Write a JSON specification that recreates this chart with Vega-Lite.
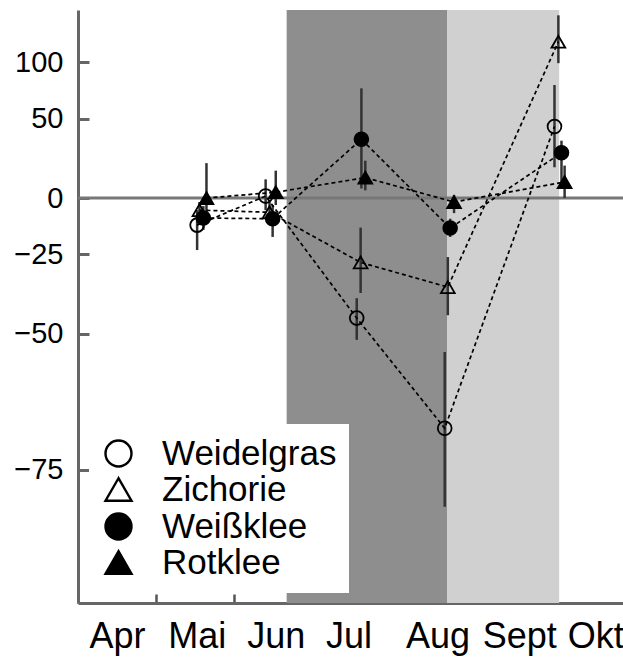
{
  "$schema": "https://vega.github.io/schema/vega-lite/v6.json",
  "width": 545,
  "height": 593,
  "autosize": {"type": "none"},
  "padding": {"left": 78, "top": 10, "right": 0, "bottom": 55},
  "background": "white",
  "config": {
    "view": {"stroke": null},
    "font": "Liberation Sans",
    "axis": {"grid": false, "title": null},
    "legend": {
      "orient": "none",
      "legendX": 11,
      "legendY": 414,
      "fillColor": "white",
      "padding": 12,
      "labelFontSize": 35,
      "labelLimit": 500,
      "labelColor": "black",
      "labelOffset": 26,
      "symbolSize": 676,
      "symbolStrokeWidth": 2.4,
      "rowPadding": 0
    }
  },
  "datasets": {
    "pts": [
      {"species": "Weidelgras", "month": 1.53, "r": 0.871, "lo": 0.767, "hi": 0.94},
      {"species": "Weidelgras", "month": 2.41, "r": 1.01, "lo": 0.94, "hi": 1.10},
      {"species": "Weidelgras", "month": 3.58, "r": 0.542, "lo": 0.485, "hi": 0.60},
      {"species": "Weidelgras", "month": 4.71, "r": 0.309, "lo": 0.207, "hi": 0.456},
      {"species": "Weidelgras", "month": 6.12, "r": 1.44, "lo": 1.17, "hi": 1.78},
      {"species": "Zichorie", "month": 1.56, "r": 0.94, "lo": 0.90, "hi": 0.98},
      {"species": "Zichorie", "month": 2.46, "r": 0.93, "lo": 0.88, "hi": 0.98},
      {"species": "Zichorie", "month": 3.63, "r": 0.72, "lo": 0.616, "hi": 0.86},
      {"species": "Zichorie", "month": 4.75, "r": 0.635, "lo": 0.55, "hi": 0.74},
      {"species": "Zichorie", "month": 6.17, "r": 2.22, "lo": 1.99, "hi": 2.54},
      {"species": "Weißklee", "month": 1.61, "r": 0.903, "lo": 0.85, "hi": 0.96},
      {"species": "Weißklee", "month": 2.50, "r": 0.90, "lo": 0.82, "hi": 0.965},
      {"species": "Weißklee", "month": 3.64, "r": 1.35, "lo": 1.05, "hi": 1.75},
      {"species": "Weißklee", "month": 4.78, "r": 0.858, "lo": 0.82, "hi": 0.90},
      {"species": "Weißklee", "month": 6.21, "r": 1.26, "lo": 1.07, "hi": 1.34},
      {"species": "Rotklee", "month": 1.65, "r": 1.0, "lo": 0.917, "hi": 1.195},
      {"species": "Rotklee", "month": 2.54, "r": 1.03, "lo": 0.965, "hi": 1.15},
      {"species": "Rotklee", "month": 3.69, "r": 1.11, "lo": 1.04, "hi": 1.21},
      {"species": "Rotklee", "month": 4.83, "r": 0.98, "lo": 0.926, "hi": 1.015},
      {"species": "Rotklee", "month": 6.25, "r": 1.085, "lo": 1.0, "hi": 1.18}
    ]
  },
  "layer": [
    {
      "data": {"values": [{"start": 2.68, "end": 4.74}]},
      "mark": {"type": "rect", "color": "#8e8e8e"},
      "encoding": {
        "x": {"field": "start", "type": "quantitative", "scale": {"domain": [0, 7], "nice": false, "zero": false},
          "axis": {
            "values": [0, 1, 2, 3, 4, 5, 6],
            "labelExpr": "['Apr','Mai','Jun','Jul','Aug','Sept','Okt'][datum.value]",
            "labelOffset": {"expr": "[39,41,42,37,48,52,50][datum.value]"},
            "labelFlush": false,
            "labelOverlap": false,
            "labelBound": false,
            "labelFontSize": 36,
            "labelColor": "black",
            "labelPadding": 25,
            "tickSize": -9,
            "tickWidth": 2.5,
            "tickColor": "#555",
            "domainColor": "#666",
            "domainWidth": 3
          }},
        "x2": {"field": "end"}
      }
    },
    {
      "data": {"values": [{"start": 4.74, "end": 6.18}]},
      "mark": {"type": "rect", "color": "#d0d0d0"},
      "encoding": {
        "x": {"field": "start", "type": "quantitative"},
        "x2": {"field": "end"}
      }
    },
    {
      "data": {"values": [{"r": 1}]},
      "mark": {"type": "rule", "color": "#777", "strokeWidth": 3},
      "encoding": {
        "y": {"field": "r", "type": "quantitative", "scale": {"type": "log", "domain": [0.1267, 2.61], "nice": false},
          "axis": {
            "values": [0.25, 0.5, 0.75, 1, 1.5, 2],
            "labelExpr": "format((datum.value - 1) * 100, 'd')",
            "labelFontSize": 29,
            "labelColor": "black",
            "labelPadding": 26,
            "tickSize": -11,
            "tickWidth": 3,
            "tickColor": "#666",
            "domainColor": "#666",
            "domainWidth": 3
          }}
      }
    },
    {
      "data": {"name": "pts"},
      "mark": {"type": "rule", "color": "#333", "strokeWidth": 2.5},
      "encoding": {
        "x": {"field": "month", "type": "quantitative"},
        "y": {"field": "lo", "type": "quantitative"},
        "y2": {"field": "hi"}
      }
    },
    {
      "data": {"name": "pts"},
      "mark": {"type": "line", "color": "black", "strokeWidth": 1.7, "strokeDash": [4, 3]},
      "encoding": {
        "x": {"field": "month", "type": "quantitative"},
        "y": {"field": "r", "type": "quantitative"},
        "detail": {"field": "species"}
      }
    },
    {
      "data": {"name": "pts"},
      "mark": {"type": "point", "strokeWidth": 1.8, "size": 190, "opacity": 1},
      "encoding": {
        "x": {"field": "month", "type": "quantitative"},
        "y": {"field": "r", "type": "quantitative"},
        "shape": {"field": "species", "type": "nominal",
          "scale": {"domain": ["Weidelgras", "Zichorie", "Weißklee", "Rotklee"], "range": ["circle", "triangle-up", "circle", "triangle-up"]},
          "legend": {"title": null}},
        "fill": {"field": "species", "type": "nominal",
          "scale": {"domain": ["Weidelgras", "Zichorie", "Weißklee", "Rotklee"], "range": ["rgba(255,255,255,0)", "rgba(255,255,255,0)", "black", "black"]},
          "legend": {"title": null}},
        "stroke": {"field": "species", "type": "nominal",
          "scale": {"domain": ["Weidelgras", "Zichorie", "Weißklee", "Rotklee"], "range": ["black", "black", "black", "black"]},
          "legend": {"title": null}}
      }
    }
  ]
}
